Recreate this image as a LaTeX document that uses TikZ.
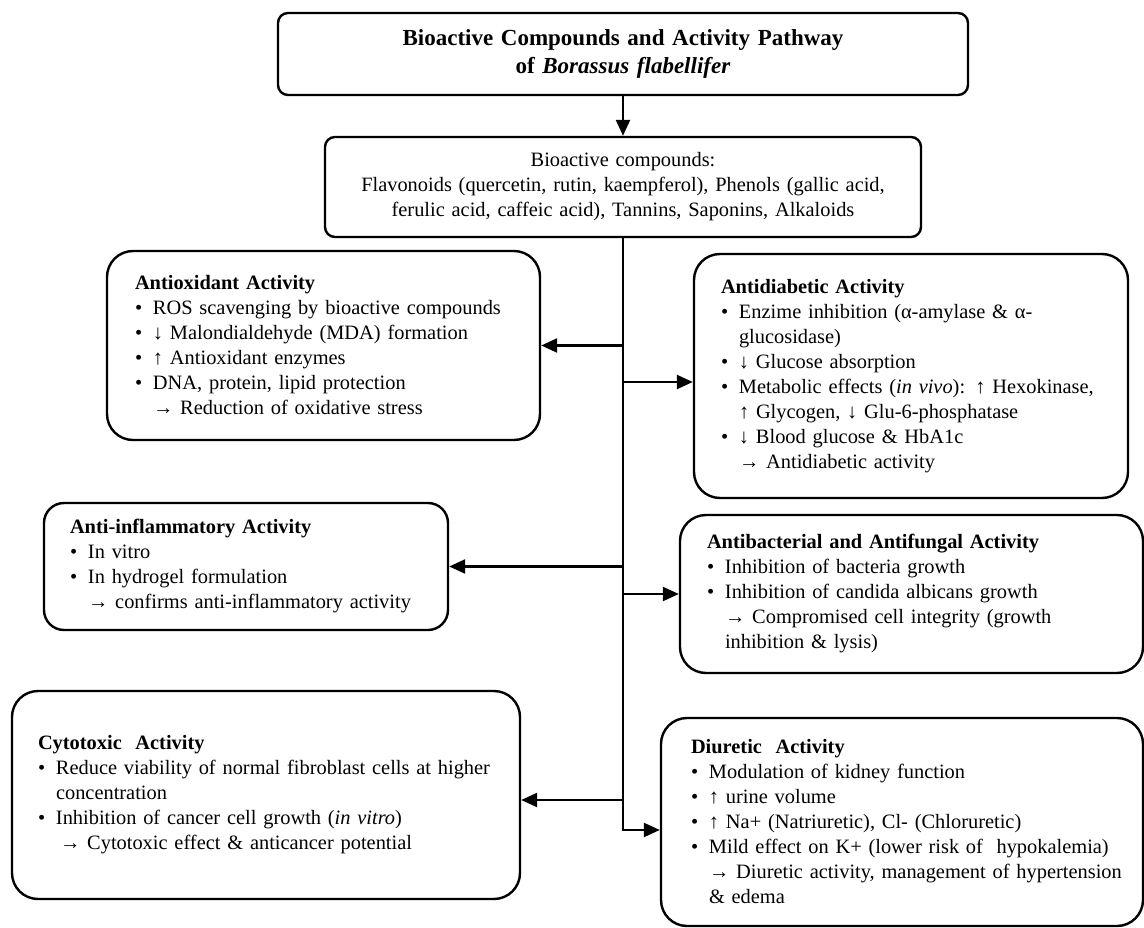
\documentclass[tikz,border=0pt]{standalone}
\usepackage{fontspec}
\setmainfont{Liberation Serif}
\usepackage{tikz}
\usetikzlibrary{arrows.meta, positioning}

\setlength{\parindent}{0pt}
\newlength{\bulw}
\setlength{\bulw}{18pt}
\newcommand{\bul}{\makebox[\bulw][l]{\textbullet}}
\newcommand{\ind}{\hspace*{\bulw}}

\begin{document}
\begin{tikzpicture}[x=1pt, y=-1pt, >=Triangle, font=\fontsize{20.4}{25}\selectfont]
		\tikzstyle{headbox} = [draw=black, line width=2.4pt, rounded corners=10pt, align=center, inner sep=0pt]
		\tikzstyle{actbox} = [draw=black, line width=2.4pt, rounded corners=26pt, align=left, inner xsep=28pt, inner ysep=0pt]
		\tikzstyle{arrow} = [line width=2.4pt, -{Triangle[length=16pt, width=14pt]}]
		
		\useasboundingbox (0, 0) rectangle (1144, 928);
		
		\node[headbox, minimum width=690pt, minimum height=82pt, text width=680pt, font=\fontsize{23}{28}\selectfont\bfseries]	at (623, 54)	(title)	{Bioactive Compounds and Activity Pathway\\ of \textit{Borassus flabellifer}};
		
		\node[headbox, minimum width=596pt, minimum height=100pt, text width=580pt]	at (623, 187)	(main)	{Bioactive compounds:\\ Flavonoids (quercetin, rutin, kaempferol), Phenols (gallic acid,\\ ferulic acid, caffeic acid), Tannins, Saponins, Alkaloids};
		
		\node[actbox, minimum width=433pt, minimum height=189pt, text width=377pt]	at (323.5, 345.5)	(antiox)	{\textbf{Antioxidant Activity}\\
			\bul ROS scavenging by bioactive compounds\\
			\bul ↓ Malondialdehyde (MDA) formation\\
			\bul ↑ Antioxidant enzymes\\
			\bul DNA, protein, lipid protection\\
			\ind → Reduction of oxidative stress};
		
		\node[actbox, minimum width=434pt, minimum height=244pt, inner xsep=27pt, text width=380pt]	at (911, 376)	(antidiab)	{\textbf{Antidiabetic Activity}\\
			\bul Enzime inhibition (α-amylase \& α-\\
			\ind glucosidase)\\
			\bul ↓ Glucose absorption\\
			\bul Metabolic effects (\textit{in vivo}): ↑ Hexokinase,\\
			\ind ↑ Glycogen, ↓ Glu-6-phosphatase\\
			\bul ↓ Blood glucose \& HbA1c\\
			\ind → Antidiabetic activity};
		
		\node[actbox, minimum width=404pt, minimum height=127pt, inner xsep=26pt, text width=352pt, rounded corners=20pt]	at (246, 566.5)	(antiinfl)	{\textbf{Anti-inflammatory Activity}\\
			\bul In vitro\\
			\bul In hydrogel formulation\\
			\ind → confirms anti-inflammatory activity};
		
		\node[actbox, minimum width=463pt, minimum height=158pt, inner xsep=27pt, text width=409pt]	at (911.5, 594)	(antibact)	{\textbf{Antibacterial and Antifungal Activity}\\
			\bul Inhibition of bacteria growth\\
			\bul Inhibition of candida albicans growth\\
			\ind → Compromised cell integrity (growth\\
			\ind inhibition \& lysis)};
		
		\node[actbox, minimum width=508pt, minimum height=208pt, inner xsep=26pt, text width=456pt]	at (266, 795)	(cyto)	{\textbf{Cytotoxic\ \ Activity}\\
			\bul Reduce viability of normal fibroblast cells at higher\\
			\ind concentration\\
			\bul Inhibition of cancer cell growth (\textit{in vitro})\\
			\ind\hspace*{4pt}→ Cytotoxic effect \& anticancer potential};
		
		\node[actbox, minimum width=482pt, minimum height=208pt, inner xsep=30pt, text width=422pt]	at (902, 822)	(diur)	{\textbf{Diuretic\ \ Activity}\\
			\bul Modulation of kidney function\\
			\bul ↑ urine volume\\
			\bul ↑ Na+ (Natriuretic), Cl- (Chloruretic)\\
			\bul Mild effect on K+ (lower risk of\ \ hypokalemia)\\
			\ind \mbox{→ Diuretic activity, management of hypertension}\\
			\ind \& edema};
		
		\draw [arrow] (title) -- (main);
		\draw [arrow] (main.south) |- ([yshift=-8pt]diur.west);
		
		\draw [arrow] (main.south |- antiox.east) -- (antiox.east);
		\draw [arrow] (main.south |- antidiab.west) ++(0, 6) -- ([yshift=-6pt]antidiab.west);
		\draw [arrow] (main.south |- antiinfl.east) -- (antiinfl.east);
		\draw [arrow] (main.south |- antibact.west) -- (antibact.west);
		\draw [arrow] (main.south |- cyto.east) ++(0, 5) -- ([yshift=-5pt]cyto.east);
	\end{tikzpicture}
\end{document}
